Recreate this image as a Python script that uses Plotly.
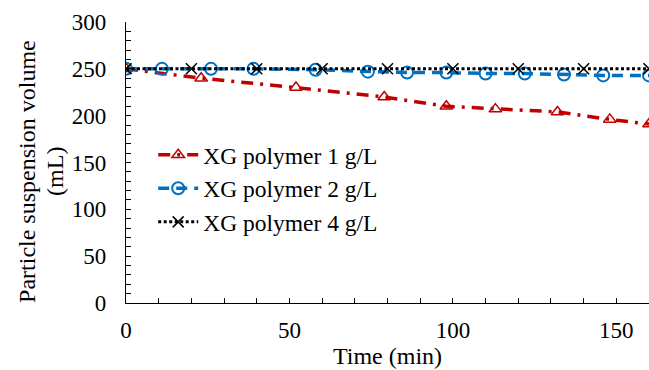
import plotly.graph_objects as go

# Data
red_x = [0, 23, 52, 79, 98, 113, 132, 148, 160]
red_y = [250, 240, 230, 220, 210, 207, 204, 196, 191]

blue_x = [0, 11, 26, 39, 58, 74, 86, 98, 110, 122, 134, 146, 160]
blue_y = [250, 250, 250, 250, 249, 247, 246, 246, 245, 245, 244, 243, 243]

black_x = [0, 20, 40, 60, 80, 100, 120, 140, 160]
black_y = [250, 250, 250, 250, 250, 250, 250, 250, 250]

names = ["XG polymer 1 g/L", "XG polymer 2 g/L", "XG polymer 4 g/L"]
y_title_lines = ["Particle suspension volume", "(mL)"]
x_title = "Time (min)"

FONT = "Liberation Serif, Times New Roman, serif"

fig = go.Figure()
fig.add_trace(go.Scatter(
    x=red_x, y=red_y, name=names[0], mode="lines+markers",
    line=dict(color="#C00000", width=3.5, dash="12px,7px,3px,7px"),
    marker=dict(symbol="triangle-up-open", size=11, color="#C00000", line=dict(width=1.5)),
))
fig.add_trace(go.Scatter(
    x=blue_x, y=blue_y, name=names[1], mode="lines+markers",
    line=dict(color="#0070C0", width=3.5, dash="11px,7px"),
    marker=dict(symbol="circle-open", size=12, color="#0070C0", line=dict(width=2)),
))
fig.add_trace(go.Scatter(
    x=black_x, y=black_y, name=names[2], mode="lines+markers",
    line=dict(color="#000000", width=3, dash="3px,2.5px"),
    marker=dict(symbol="x-thin-open", size=11, color="#000000", line=dict(width=1.5, color="#000000")),
))

# y-axis title as two rotated text lines
for txt, xp in zip(y_title_lines, [-0.1893, -0.1358]):
    fig.add_annotation(
        text=txt, xref="paper", yref="paper", x=xp, y=0.47,
        xanchor="center", yanchor="middle", textangle=-90, showarrow=False,
        font=dict(family=FONT, size=24, color="#000000"),
    )

fig.update_layout(
    width=649, height=370,
    margin=dict(l=126, r=0, t=22, b=67, pad=0),
    paper_bgcolor="white", plot_bgcolor="white",
    font=dict(family=FONT, size=23, color="#000000"),
    showlegend=True,
    legend=dict(
        x=0.052, y=0.605, xanchor="left", yanchor="top",
        bgcolor="rgba(0,0,0,0)", font=dict(size=23.5, family=FONT),
        tracegroupgap=0, itemwidth=40,
    ),
    xaxis=dict(
        range=[0, 160], dtick=50, showgrid=False, zeroline=False,
        showline=True, linecolor="black", linewidth=1.3,
        ticks="inside", ticklen=5, tickcolor="black",
        minor=dict(dtick=10, ticks="inside", ticklen=5, tickcolor="black", showgrid=False),
        title=dict(text=x_title, font=dict(size=24), standoff=4),
        tickfont=dict(size=23), ticklabelstandoff=6,
    ),
    yaxis=dict(
        range=[0, 300], dtick=50, showgrid=False, zeroline=False,
        showline=True, linecolor="black", linewidth=1.3,
        ticks="inside", ticklen=5, tickcolor="black",
        minor=dict(dtick=10, ticks="inside", ticklen=5, tickcolor="black", showgrid=False),
        tickfont=dict(size=23), ticklabelstandoff=14,
    ),
)

fig.write_html(
    "out.html",
    config={"responsive": False, "displayModeBar": False},
    post_script="document.body.style.margin='0px';document.body.style.overflow='hidden';",
)
